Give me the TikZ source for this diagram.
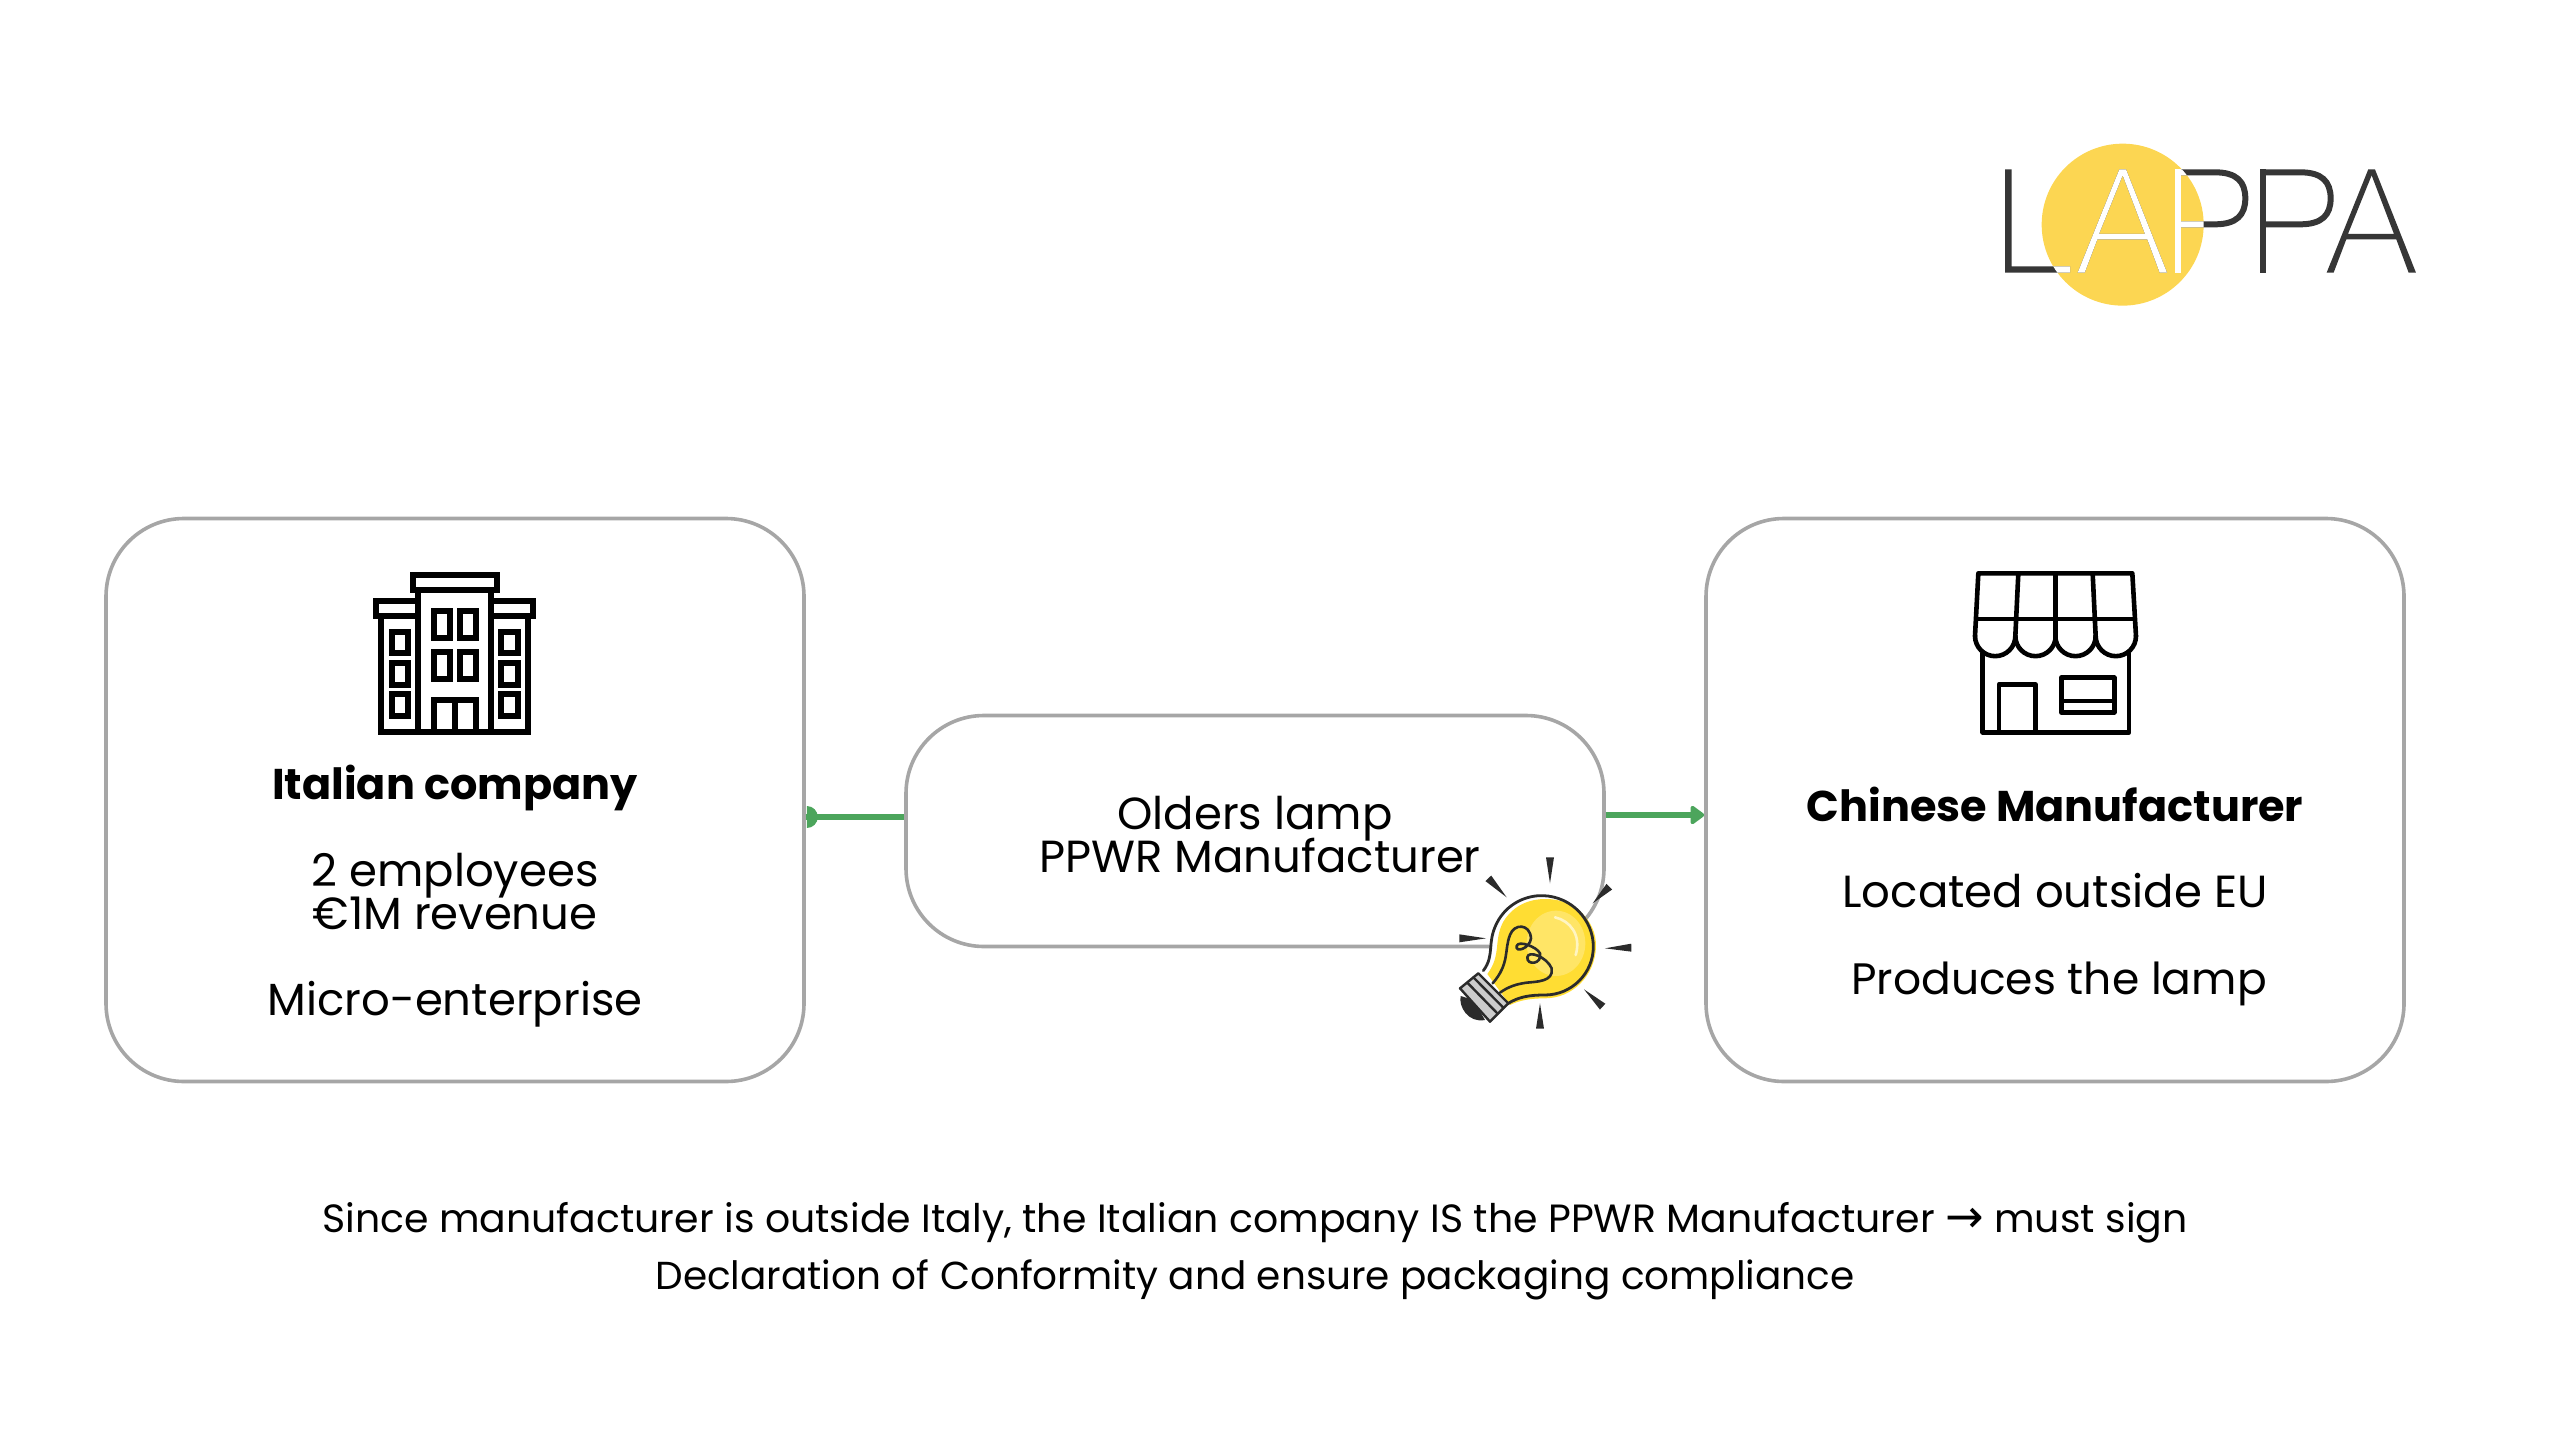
\documentclass[tikz,border=0pt]{standalone}
\usepackage{fontspec}
\usetikzlibrary{arrows.meta,calc}
\setmainfont{Poppins}
\newfontfamily\arrowfont{DejaVu Sans}
\definecolor{boxgray}{HTML}{A6A6A6}
\definecolor{linkgreen}{HTML}{4CA55C}
\definecolor{logoyellow}{HTML}{FCD652}
\definecolor{logodark}{HTML}{363636}
\definecolor{bulbdark}{HTML}{2B2B2B}
\definecolor{bulbyellow}{HTML}{FFDD33}
\definecolor{bulblight}{HTML}{FFE566}
\tikzset{
  card/.style={draw=boxgray,line width=3.6pt,fill=white,rounded corners=78pt,inner sep=0pt},
  link/.style={draw=linkgreen,line width=5.4pt},
  body/.style={anchor=base,inner sep=0pt,font=\fontsize{45}{45}\selectfont},
  title/.style={body,font=\fontsize{43}{43}\selectfont\bfseries},
  note/.style={anchor=base,inner sep=0pt,font=\fontsize{39}{39}\selectfont},
  icon/.style 2 args={shift={(#1,#2)},x=0.3333pt,y=-0.3333pt},
}
\newcommand{\logoletters}{
  \fill (135,208) -- (155,208) -- (155,499) -- (330,499) -- (330,518) -- (135,518) -- cycle;
  \foreach \dx in {0,747} {
    \fill[shift={(\dx,0)}] (353,518) -- (478,208) -- (498,208) -- (621,518) -- (599,518)
      -- (562,418) -- (412,418) -- (374,518) -- cycle
      (417,402) -- (555,402) -- (488,226) -- cycle;
  }
  \foreach \dx in {0,256} {
    \fill[shift={(\dx,0)}] (645,208) rectangle (663,518);
    \draw[shift={(\dx,0)},line width=6pt]
      (654,217) -- (765,217) .. controls (830,217) and (856,245) .. (856,295)
      .. controls (856,345) and (830,373) .. (765,373) -- (654,373);
  }
}
\begin{document}
\begin{tikzpicture}[x=1pt,y=-1pt]
  \useasboundingbox (0,0) rectangle (2560,1440);
  % boxes
  \node[card,minimum width=698pt,minimum height=563pt] (italian) at (455,800) {};
  \node[card,minimum width=698pt,minimum height=231pt] (lamp) at (1255,831) {};
  \node[card,minimum width=698pt,minimum height=563pt] (chinese) at (2055,800) {};
  % links
  \draw[link] (italian.east |- 0,817) -- (lamp.west |- 0,817);
  \fill[linkgreen] (italian.east |- 0,817) ++(1,-11) arc[start angle=-90,end angle=90,radius=11] -- cycle;
  \draw[link,-{Triangle[length=15pt,width=21pt,round]}] (lamp.east |- 0,815) -- (chinese.west |- 0,815);
  % texts
  \node[title] (italianname) at (455,799) {Italian company};
  \node[body] (italianstaff) at (455,886) {2 employees};
  \node[body] (italianrevenue) at (455,929) {€1M revenue};
  \node[body] (italiansize) at (455,1015) {Micro-enterprise};
  \node[body] (lamprole) at (1255,829) {Olders lamp};
  \node[body] (lamptitle) at (1260,872) {PPWR Manufacturer};
  \node[title] (chinesename) at (2055,821) {Chinese Manufacturer};
  \node[body] (chineseplace) at (2055,907) {Located outside EU};
  \node[body,font=\fontsize{44}{44}\selectfont] (chineseproduct) at (2059,994) {Produces the lamp};
  \node[note,font=\fontsize{39.4}{39.4}\selectfont] (summaryone) at (1255,1232) {Since manufacturer is outside Italy, the Italian company IS the PPWR Manufacturer {\arrowfont\fontsize{46}{46}\selectfont →} must sign};
  \node[note] (summarytwo) at (1255,1289) {Declaration of Conformity and ensure packaging compliance};
  % logo
  \begin{scope}[icon={1960}{100}]
    \fill[logoyellow] (488,374) circle [radius=243];
    \begin{scope}[color=logodark]
      \logoletters
    \end{scope}
    \begin{scope}
      \clip (488,374) circle [radius=243];
      \begin{scope}[color=white]
        \logoletters
      \end{scope}
    \end{scope}
  \end{scope}
  % building
  \begin{scope}[icon={340}{550},line width=6.2pt,miter limit=10]
    \draw (219,74) rectangle (470,121);
    \draw (235,198) -- (109,198) -- (109,152) -- (235,152);
    \draw (453,198) -- (580,198) -- (580,152) -- (453,152);
    \draw (235,121) -- (235,545);
    \draw (453,121) -- (453,545);
    \draw (124,198) -- (124,545) -- (565,545) -- (565,198);
    \foreach \wy in {245,339,433} {
      \draw (155,\wy) rectangle ++(50,65);
      \draw (484,\wy) rectangle ++(50,65);
    }
    \foreach \wy in {182,307} {
      \draw (281,\wy) rectangle ++(48,81);
      \draw (359,\wy) rectangle ++(48,81);
    }
    \draw (281,545) -- (281,449) -- (407,449) -- (407,545);
    \draw (344,449) -- (344,545);
  \end{scope}
  % shop
  \begin{scope}[icon={1950}{550},line width=4.6pt,line join=round,line cap=round]
    \draw (75,258) -- (85,70) -- (547,70) -- (558,258);
    \draw (80,207) -- (553,207);
    \draw (205,70) -- (196,258);
    \draw (316,70) -- (316,258);
    \draw (428,70) -- (437,258);
    \foreach \sx in {75,196,316,437} {
      \draw (\sx,258) arc[start angle=180,end angle=0,radius=60.5];
    }
    \draw (98,310) -- (98,547) -- (537,547) -- (537,310);
    \draw (147,547) -- (147,403) -- (256,403) -- (256,547);
    \draw (334,383) rectangle (493,487);
    \draw (334,453) -- (493,453);
  \end{scope}
  % bulb
  \begin{scope}[icon={1430}{840},line join=round,line cap=round]
    \fill[white] (160,392) .. controls (195,345) and (170,310) .. (200,250)
      .. controls (230,190) and (290,165) .. (340,167)
      .. controls (425,170) and (490,240) .. (490,320)
      .. controls (490,400) and (425,465) .. (345,465)
      .. controls (300,465) and (265,470) .. (232,492) -- cycle;
    \fill[bulbyellow] (172,402) .. controls (215,345) and (190,300) .. (220,245)
      .. controls (250,195) and (300,177) .. (345,177)
      .. controls (430,175) and (500,240) .. (498,320)
      .. controls (495,410) and (425,475) .. (345,475)
      .. controls (305,475) and (270,480) .. (240,495) -- cycle;
    \fill[bulblight] (378,310) ellipse [x radius=88,y radius=98];
    \draw[line width=2.6pt,white!60!bulblight] (375,232) .. controls (420,242) and (455,285) .. (437,345);
    \draw[bulbdark,line width=2.8pt] (160,392) .. controls (195,345) and (170,310) .. (200,250)
      .. controls (230,190) and (290,165) .. (340,167)
      .. controls (425,170) and (490,240) .. (490,320)
      .. controls (490,400) and (425,465) .. (345,465)
      .. controls (300,465) and (265,470) .. (232,492);
    \draw[bulbdark,line width=2.6pt] (188,430) .. controls (240,370) and (222,330) .. (240,285)
      .. controls (252,250) and (300,250) .. (303,295)
      .. controls (300,325) and (255,340) .. (260,318)
      .. controls (265,300) and (320,320) .. (330,340)
      .. controls (338,372) and (290,378) .. (292,352)
      .. controls (294,330) and (350,350) .. (365,385)
      .. controls (372,425) and (320,425) .. (290,428)
      .. controls (260,432) and (235,440) .. (210,458);
    \fill[bulbdark] (92,468) .. controls (85,500) and (115,550) .. (165,540) -- (130,480) -- cycle;
    \draw[bulbdark,line width=2.4pt,fill=black!20] (90,445) -- (145,400) -- (235,490) -- (180,545) -- cycle;
    \draw[bulbdark,line width=2.4pt] (112,428) -- (202,520);
    \draw[bulbdark,line width=2.4pt] (130,412) -- (220,503);
    \foreach \wx/\wy/\tx/\ty in {360/52/360/130, 175/115/230/172, 538/140/488/190, 88/295/168/295,
      604/323/525/325, 518/500/462/448, 330/566/330/490} {
      \fill[bulbdark] (\tx,\ty) -- ($(\wx,\wy)!4pt!90:(\tx,\ty)$) -- ($(\wx,\wy)!4pt!-90:(\tx,\ty)$) -- cycle;
    }
  \end{scope}
\end{tikzpicture}
\end{document}
